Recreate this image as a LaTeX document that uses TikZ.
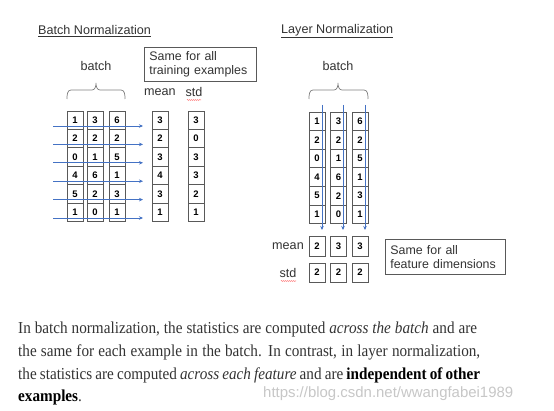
\documentclass[tikz,border=0pt]{standalone}
\usepackage{fontspec}
\setmainfont{Liberation Sans}
\newfontfamily\bodyserif{Liberation Serif}
\usepackage{graphicx}
\usetikzlibrary{arrows.meta,decorations.pathmorphing}
\definecolor{arrowblue}{HTML}{4472C4}
\definecolor{cellgray}{HTML}{595959}
\definecolor{txt}{HTML}{333333}
\begin{document}
\begin{tikzpicture}[x=1pt,y=-1pt,
 cell/.style={draw=cellgray,fill=white,line width=0.8pt,minimum width=16pt,minimum height=18.4pt,inner sep=0pt,font=\bfseries\fontsize{9.5}{9.5}\selectfont,text=black},
 lbl/.style={font=\fontsize{12.6}{14}\selectfont,text=txt,inner sep=0pt},
 flow/.style={draw=arrowblue,line width=0.8pt,-{Stealth[length=4pt,width=3.5pt]}},
 note/.style={draw=cellgray,line width=0.8pt,align=left,font=\fontsize{12.4}{14}\selectfont,text=txt,inner xsep=5pt,inner ysep=1pt,anchor=north west},
 bracepath/.style={draw=gray,line width=0.7pt},
 spell/.style={draw=red!60,line width=0.5pt,decorate,decoration={snake,amplitude=0.5pt,segment length=2pt}},
 bodyline/.style={anchor=base west,inner sep=0pt,text=txt,font=\bodyserif\fontsize{15.2}{17}\selectfont}
]
\useasboundingbox (0,0) rectangle (554,411);
\fill[white] (0,0) rectangle (554,411);

% ---------- Batch Normalization ----------
\node[lbl,anchor=west] (t1) at (38,31) {\underline{Batch Normalization}};
\node[lbl] (b1) at (96,66) {batch};
\draw[bracepath] (67,99) to[out=90,in=180] (71,90) -- (92,90) to[out=0,in=-90] (96,83)
  to[out=-90,in=180] (100,90) -- (121,90) to[out=0,in=90] (125,99);
\node[note,minimum width=112pt,minimum height=34pt,text width=102pt] (n1) at (144,47) {Same for all\\training examples};
\node[lbl] (m1) at (160,92) {mean};
\node[lbl] (s1) at (194,92) {std};
\draw[spell] (187,100) -- (201,100);

\foreach \a/\b/\c/\m/\s [count=\i] in {1/3/6/3/3, 2/2/2/2/0, 0/1/5/3/3, 4/6/1/4/3, 5/2/3/3/2, 1/0/1/1/1} {
  \pgfmathsetmacro\yy{101.8+18.4*\i}
  \node[cell] (La\i) at (75,\yy) {\a};
  \node[cell] (Lb\i) at (95,\yy) {\b};
  \node[cell] (Lc\i) at (117,\yy) {\c};
  \node[cell] (Lm\i) at (160,\yy) {\m};
  \node[cell] (Ls\i) at (196,\yy) {\s};
}
\foreach \i in {1,...,6} {
  \pgfmathsetmacro\yy{107.6+18.4*\i}
  \coordinate (hs\i) at (53,\yy);
  \coordinate (he\i) at (143,\yy);
  \draw[flow] (hs\i) -- (he\i);
}

% ---------- Layer Normalization ----------
\node[lbl,anchor=west] (t2) at (281,31) {\underline{Layer Normalization}};
\node[lbl] (b2) at (338,66) {batch};
\draw[bracepath] (309,99) to[out=90,in=180] (313,90) -- (334,90) to[out=0,in=-90] (338,83)
  to[out=-90,in=180] (342,90) -- (364,90) to[out=0,in=90] (368,99);

\foreach \a/\b/\c [count=\i] in {1/3/6, 2/2/2, 0/1/5, 4/6/1, 5/2/3, 1/0/1} {
  \pgfmathsetmacro\yy{102.7+18.6*\i}
  \node[cell,minimum height=18.6pt] (Ra\i) at (317,\yy) {\a};
  \node[cell,minimum height=18.6pt] (Rb\i) at (338.5,\yy) {\b};
  \node[cell,minimum height=18.6pt] (Rc\i) at (360,\yy) {\c};
}
\coordinate (vs1) at (322,105); \coordinate (ve1) at (322,230);
\coordinate (vs2) at (343,105); \coordinate (ve2) at (343,230);
\coordinate (vs3) at (365,105); \coordinate (ve3) at (365,230);
\foreach \i in {1,2,3} { \draw[flow] (vs\i) -- (ve\i); }

\node[lbl] (m2) at (288,246) {mean};
\node[lbl] (s2) at (288,273) {std};
\draw[spell] (281,281) -- (296,281);
\node[cell,minimum height=20pt] (Rm1) at (317,246) {2};
\node[cell,minimum height=20pt] (Rm2) at (338.5,246) {3};
\node[cell,minimum height=20pt] (Rm3) at (360,246) {3};
\node[cell,minimum height=19pt] (Rs1) at (317,272.5) {2};
\node[cell,minimum height=19pt] (Rs2) at (338.5,272.5) {2};
\node[cell,minimum height=19pt] (Rs3) at (360,272.5) {2};
\node[note,minimum width=120pt,minimum height=35pt,text width=110pt] (n2) at (385,239) {Same for all\\feature dimensions};

% ---------- body text ----------
\node[bodyline] (p1) at (18,334) {\scalebox{1}[1.1]{\makebox[459pt][s]{In batch normalization, the statistics are computed \textit{across the batch} and are}}};
\node[bodyline] (p2) at (18,356.6) {\scalebox{1}[1.1]{\makebox[462pt][s]{the same for each example in the batch. In contrast, in layer normalization,}}};
\node[bodyline] (p3) at (18,379.2) {\scalebox{1}[1.1]{\makebox[462pt][s]{the statistics are computed \textit{across each feature} and are \textcolor{black}{\textbf{independent of other}}}}};
\node[bodyline] (p4) at (18,401.8) {\scalebox{1}[1.1]{\textcolor{black}{\textbf{examples}}.}};

\node[anchor=base west,inner sep=0pt,text=black!22] (wm) at (263,398) {\resizebox{250pt}{!}{https://blog.csdn.net/wwangfabei1989}};
\end{tikzpicture}
\end{document}
